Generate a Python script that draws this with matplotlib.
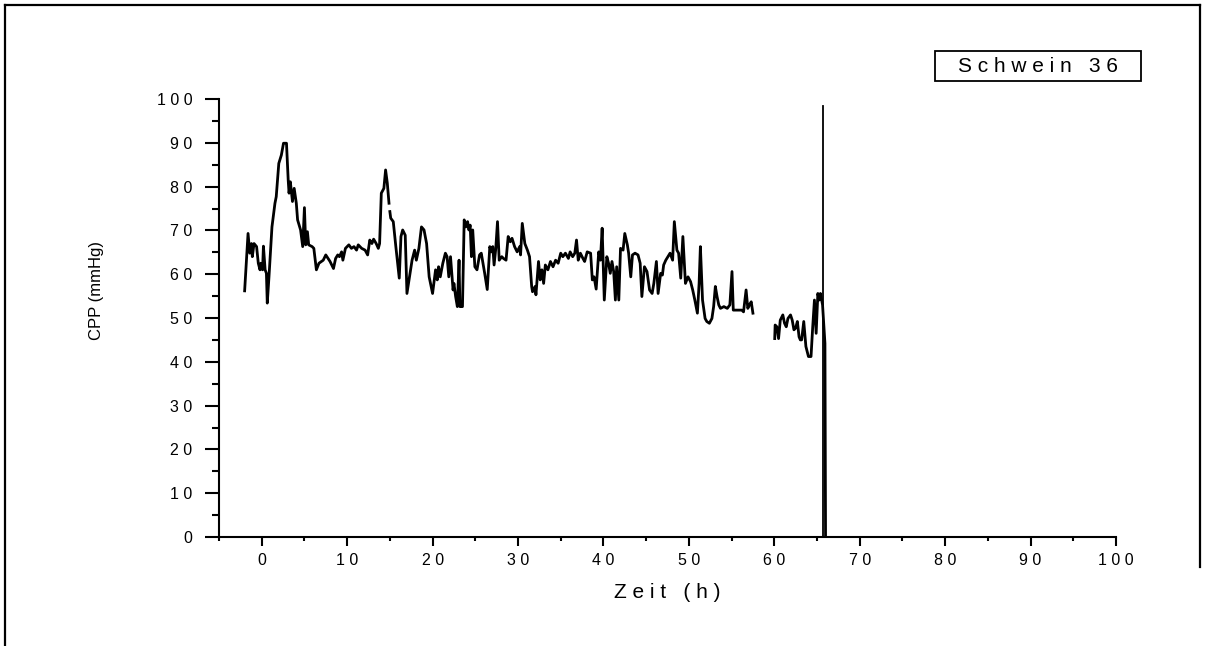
import numpy as np
import matplotlib.pyplot as plt
from matplotlib.patches import Rectangle
from matplotlib.lines import Line2D

plt.rcParams['font.family'] = ['Liberation Sans', 'DejaVu Sans']

# CPP trace, three pieces (gaps in the recording)
seg1_x = [-2.0, -1.6, -1.4, -1.2, -1.1, -0.9, -0.6, -0.4, -0.2, -0.1, 0.1, 0.2, 0.4, 0.55, 0.65,
          0.85, 1.2, 1.55, 1.7, 2.0, 2.3, 2.55, 2.9, 3.1, 3.2, 3.35, 3.6, 3.8, 4.05, 4.2,
          4.55, 4.8, 5.0, 5.15, 5.35, 5.5, 5.9, 6.1, 6.4, 6.7, 7.2, 7.5, 8.0, 8.4, 8.65,
          8.9, 9.1, 9.35, 9.5, 9.8, 10.2, 10.5, 10.8, 11.1, 11.3, 11.7, 12.1, 12.4, 12.65, 12.9,
          13.1, 13.4, 13.65, 13.8, 14.0, 14.3, 14.5, 14.7, 14.9]
seg1_y = [56.2, 69.3, 64.8, 67, 64, 67, 66.3, 62.5, 61, 62.5, 61, 66.4, 61, 60.2, 53.4,
          59.4, 70.8, 76.2, 77.7, 85.3, 87.2, 89.9, 89.9, 81.5, 78.5, 81.1, 76.6, 79.6, 76.2, 72.4,
          70.1, 66.3, 75.2, 66.7, 69.7, 66.7, 66.3, 65.9, 61, 62.5, 63.2, 64.4, 62.9, 61.3, 63.6,
          64.4, 64, 65.1, 63.2, 65.9, 66.7, 65.9, 66.3, 65.5, 66.7, 65.9, 65.5, 64.4, 67.8, 67,
          68, 67, 65.9, 67, 78.5, 79.6, 83.8, 80.8, 76.2]

seg2_x = [15.0, 15.1, 15.4, 15.7, 16.1, 16.3, 16.5, 16.8, 17.0, 17.3, 17.6, 17.9, 18.1, 18.4, 18.7,
          19.0, 19.3, 19.6, 20.0, 20.35, 20.55, 20.7, 20.9, 21.2, 21.5, 21.7, 21.9, 22.1, 22.4, 22.5,
          22.7, 22.9, 23.1, 23.2, 23.5, 23.7, 23.9, 24.1, 24.25, 24.4, 24.55, 24.7, 24.95, 25.2, 25.5,
          25.7, 25.9, 26.1, 26.4, 26.7, 26.9, 27.05, 27.2, 27.4, 27.6, 27.8, 28.1, 28.3, 28.6, 28.85,
          29.1, 29.3, 29.6, 29.9, 30.2, 30.3, 30.5, 30.8, 31.1, 31.35, 31.6, 31.7, 32.0, 32.1, 32.4,
          32.6, 32.8, 33.0, 33.2, 33.5, 33.8, 34.1, 34.4, 34.7, 35.0, 35.25, 35.55, 35.9, 36.1, 36.4,
          36.65, 36.85, 37.05, 37.3, 37.6, 37.8, 38.1, 38.5, 38.7, 38.9, 39.15, 39.45, 39.65, 39.85, 40.1,
          40.4, 40.6, 40.8, 41.0, 41.2, 41.4, 41.55, 41.8, 42.0, 42.3, 42.5, 42.8, 42.95, 43.2, 43.4,
          43.7, 44.05, 44.3, 44.5, 44.8, 45.1, 45.4, 45.7, 45.9, 46.2, 46.4, 46.7, 46.9, 47.05, 47.3,
          47.55, 47.8, 48.1, 48.3, 48.6, 48.8, 49.05, 49.3, 49.6, 49.9, 50.2, 50.45, 50.7, 51.0, 51.2,
          51.35, 51.6, 51.9, 52.1, 52.4, 52.7, 52.9, 53.1, 53.3, 53.5, 53.7, 54.1, 54.5, 54.8, 55.05,
          55.2, 55.6, 56.2, 56.4, 56.7, 56.9, 57.1, 57.3, 57.5]
seg2_y = [74.3, 72.8, 72, 66.3, 59.1, 68.6, 70.1, 68.9, 55.6, 59.4, 63.2, 65.5, 63.2, 65.9, 70.8,
          70.1, 67, 59.4, 55.6, 61, 58.7, 61.7, 59.4, 62.5, 64.8, 64, 59.4, 64, 56.4, 57.9,
          54.9, 52.6, 63.2, 52.6, 52.6, 72.4, 70.8, 72, 70.1, 71.2, 64, 70.1, 61.7, 61, 64.4,
          64.8, 62.5, 60.2, 56.5, 66.3, 65.1, 66.3, 62.1, 65.9, 72, 63.2, 64, 63.6, 63.2, 68.6,
          67.4, 68.2, 66.3, 65.1, 66.3, 64.4, 71.6, 67, 65.5, 64, 57.2, 56, 57.2, 55.3, 62.9,
          58.7, 61, 57.9, 62.1, 61, 62.9, 61.7, 63.2, 62.5, 64.8, 64, 64.8, 63.6, 65.1, 64,
          64.8, 67.8, 63.2, 64.8, 63.6, 62.9, 65.1, 64.8, 58.7, 59.4, 56.6, 65.1, 63.2, 70.5, 54.1,
          64, 62.5, 60.2, 62.9, 60.6, 54.1, 61.7, 54.1, 65.9, 65.5, 69.3, 66.7, 64.8, 59.4, 64.4,
          64.8, 64.4, 62.5, 54.9, 61.7, 60.6, 56.4, 55.6, 57.9, 62.9, 55.6, 60.2, 59.8, 62.1, 63.2,
          64, 64.8, 63.2, 72, 65.5, 64.8, 59.1, 68.6, 57.9, 59.4, 58.3, 56.4, 54.1, 51.1, 57.9,
          66.3, 54.1, 49.9, 49.2, 48.8, 49.9, 52.6, 57.2, 54.9, 53, 52.2, 52.6, 52.2, 53, 60.6,
          51.8, 51.8, 51.8, 51.4, 56.4, 52.2, 53, 53.7, 51.1]

seg3_x = [60.05, 60.1, 60.3, 60.5, 60.7, 61.0, 61.2, 61.4, 61.6, 61.9, 62.1, 62.3, 62.5, 62.7, 62.9,
          63.05, 63.2, 63.45, 63.7, 64.0, 64.3, 64.5, 64.7, 64.9, 65.1, 65.25, 65.4, 65.65, 65.93, 66.0]
seg3_y = [45.3, 48.4, 48, 45.3, 49.5, 50.7, 48.8, 48, 49.9, 50.7, 49.5, 47.3, 47.7, 49.2, 45.7,
          45, 45, 49.2, 43.5, 41.2, 41.2, 48, 54.1, 46.5, 55.6, 54.1, 55.6, 53, 44.2, 0]

marker_x = 65.7
marker_top = 98.5

x_ticks = list(range(0, 101, 10))
y_ticks = list(range(0, 101, 10))

def spaced(s):
    return ' '.join(s)

fig = plt.figure(figsize=(12.06, 6.46), dpi=100)
ax = fig.add_axes([219/1206, 1-537/646, (1116-219)/1206, (537-99)/646])

for sx, sy in [(seg1_x, seg1_y), (seg2_x, seg2_y), (seg3_x, seg3_y)]:
    ax.plot(sx, sy, color='k', linewidth=2.0)
ax.plot([marker_x, marker_x], [0, marker_top], color='k', linewidth=1.3)

ax.set_xlim(-5, 100)
ax.set_ylim(0, 100)
ax.spines['top'].set_visible(False)
ax.spines['right'].set_visible(False)
ax.spines['left'].set_linewidth(1.5)
ax.spines['bottom'].set_linewidth(1.5)

ax.set_xticks(x_ticks)
ax.set_xticklabels([spaced(str(v)) for v in x_ticks])
ax.set_xticks(np.arange(-5, 101, 5), minor=True)
ax.set_yticks(y_ticks)
ax.set_yticklabels([spaced(str(v)) for v in y_ticks])
ax.set_yticks(np.arange(0, 101, 5), minor=True)

ax.tick_params(axis='x', which='major', direction='out', length=6.5, width=1.5, labelsize=11.5, pad=5)
ax.tick_params(axis='x', which='minor', direction='out', length=3, width=1.5)
ax.tick_params(axis='y', which='major', direction='out', length=10, width=1.5, labelsize=11.5, pad=9)
ax.tick_params(axis='y', which='minor', direction='out', length=5, width=1.5)

fig.text(97/1206, 1-291/646, 'CPP (mmHg)', rotation=90, ha='center', va='center', fontsize=12)
fig.text(667/1206, 1-593/646, spaced('Zeit (h)'), ha='center', va='center', fontsize=15)

# label box top right
fig.patches.append(Rectangle((935/1206, 1-81/646), (1141-935)/1206, 30/646,
                             transform=fig.transFigure, fill=False, edgecolor='k', linewidth=1.3))
fig.text(1038/1206, 1-66/646, spaced('Schwein 36'), ha='center', va='center', fontsize=15)

# outer frame
fig.add_artist(Line2D([5/1206, 1200/1206], [1-5/646, 1-5/646], color='k', linewidth=1.6))
fig.add_artist(Line2D([5/1206, 5/1206], [1-5/646, 0], color='k', linewidth=1.6))
fig.add_artist(Line2D([1200/1206, 1200/1206], [1-5/646, 1-567/646], color='k', linewidth=1.6))

fig.savefig('out.png', dpi=100)
